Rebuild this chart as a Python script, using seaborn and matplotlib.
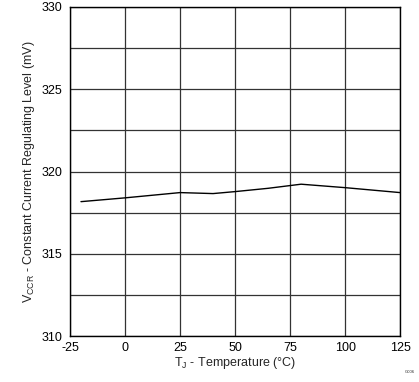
import matplotlib
matplotlib.use('Agg')
import matplotlib.pyplot as plt
import seaborn as sns
import pandas as pd
from matplotlib.ticker import MultipleLocator

# data
temps = [-20, 0, 25, 40, 50, 65, 80, 100, 125]
vccr = [318.17, 318.40, 318.72, 318.66, 318.78, 318.98, 319.23, 319.02, 318.72]

df = pd.DataFrame({'temp': temps, 'vccr': vccr})

sns.set_theme(style='white')
plt.rcParams['font.family'] = ['Liberation Sans', 'DejaVu Sans']
plt.rcParams['axes.unicode_minus'] = False

fig = plt.figure(figsize=(4.19, 3.82), dpi=100)
ax = fig.add_axes([0.167, 0.120, 0.788, 0.862])

sns.lineplot(data=df, x='temp', y='vccr', ax=ax, color='black', linewidth=1.0)

ax.set_xlim(-25, 125)
ax.set_ylim(310, 330)
ax.xaxis.set_major_locator(MultipleLocator(25))
ax.yaxis.set_major_locator(MultipleLocator(5))
ax.yaxis.set_minor_locator(MultipleLocator(2.5))
ax.grid(True, which='both', color='#333333', linewidth=0.9)
ax.tick_params(which='both', length=0, labelsize=9, colors='black')
ax.tick_params(axis='x', pad=4.5)
ax.tick_params(axis='y', pad=5.5)
for s in ax.spines.values():
    s.set_color('black')
    s.set_linewidth(1.0)

ax.set_xlabel(r'T$_{\mathregular{J}}$ - Temperature (°C)', fontsize=9, labelpad=0.5)
ax.set_ylabel(r'V$_{\mathregular{CCR}}$ - Constant Current Regulating Level (mV)', fontsize=9, labelpad=3)

fig.text(0.99, 0.022, 'G006', fontsize=3, ha='right', va='bottom')

plt.savefig('out.png', dpi=100)
plt.close()
